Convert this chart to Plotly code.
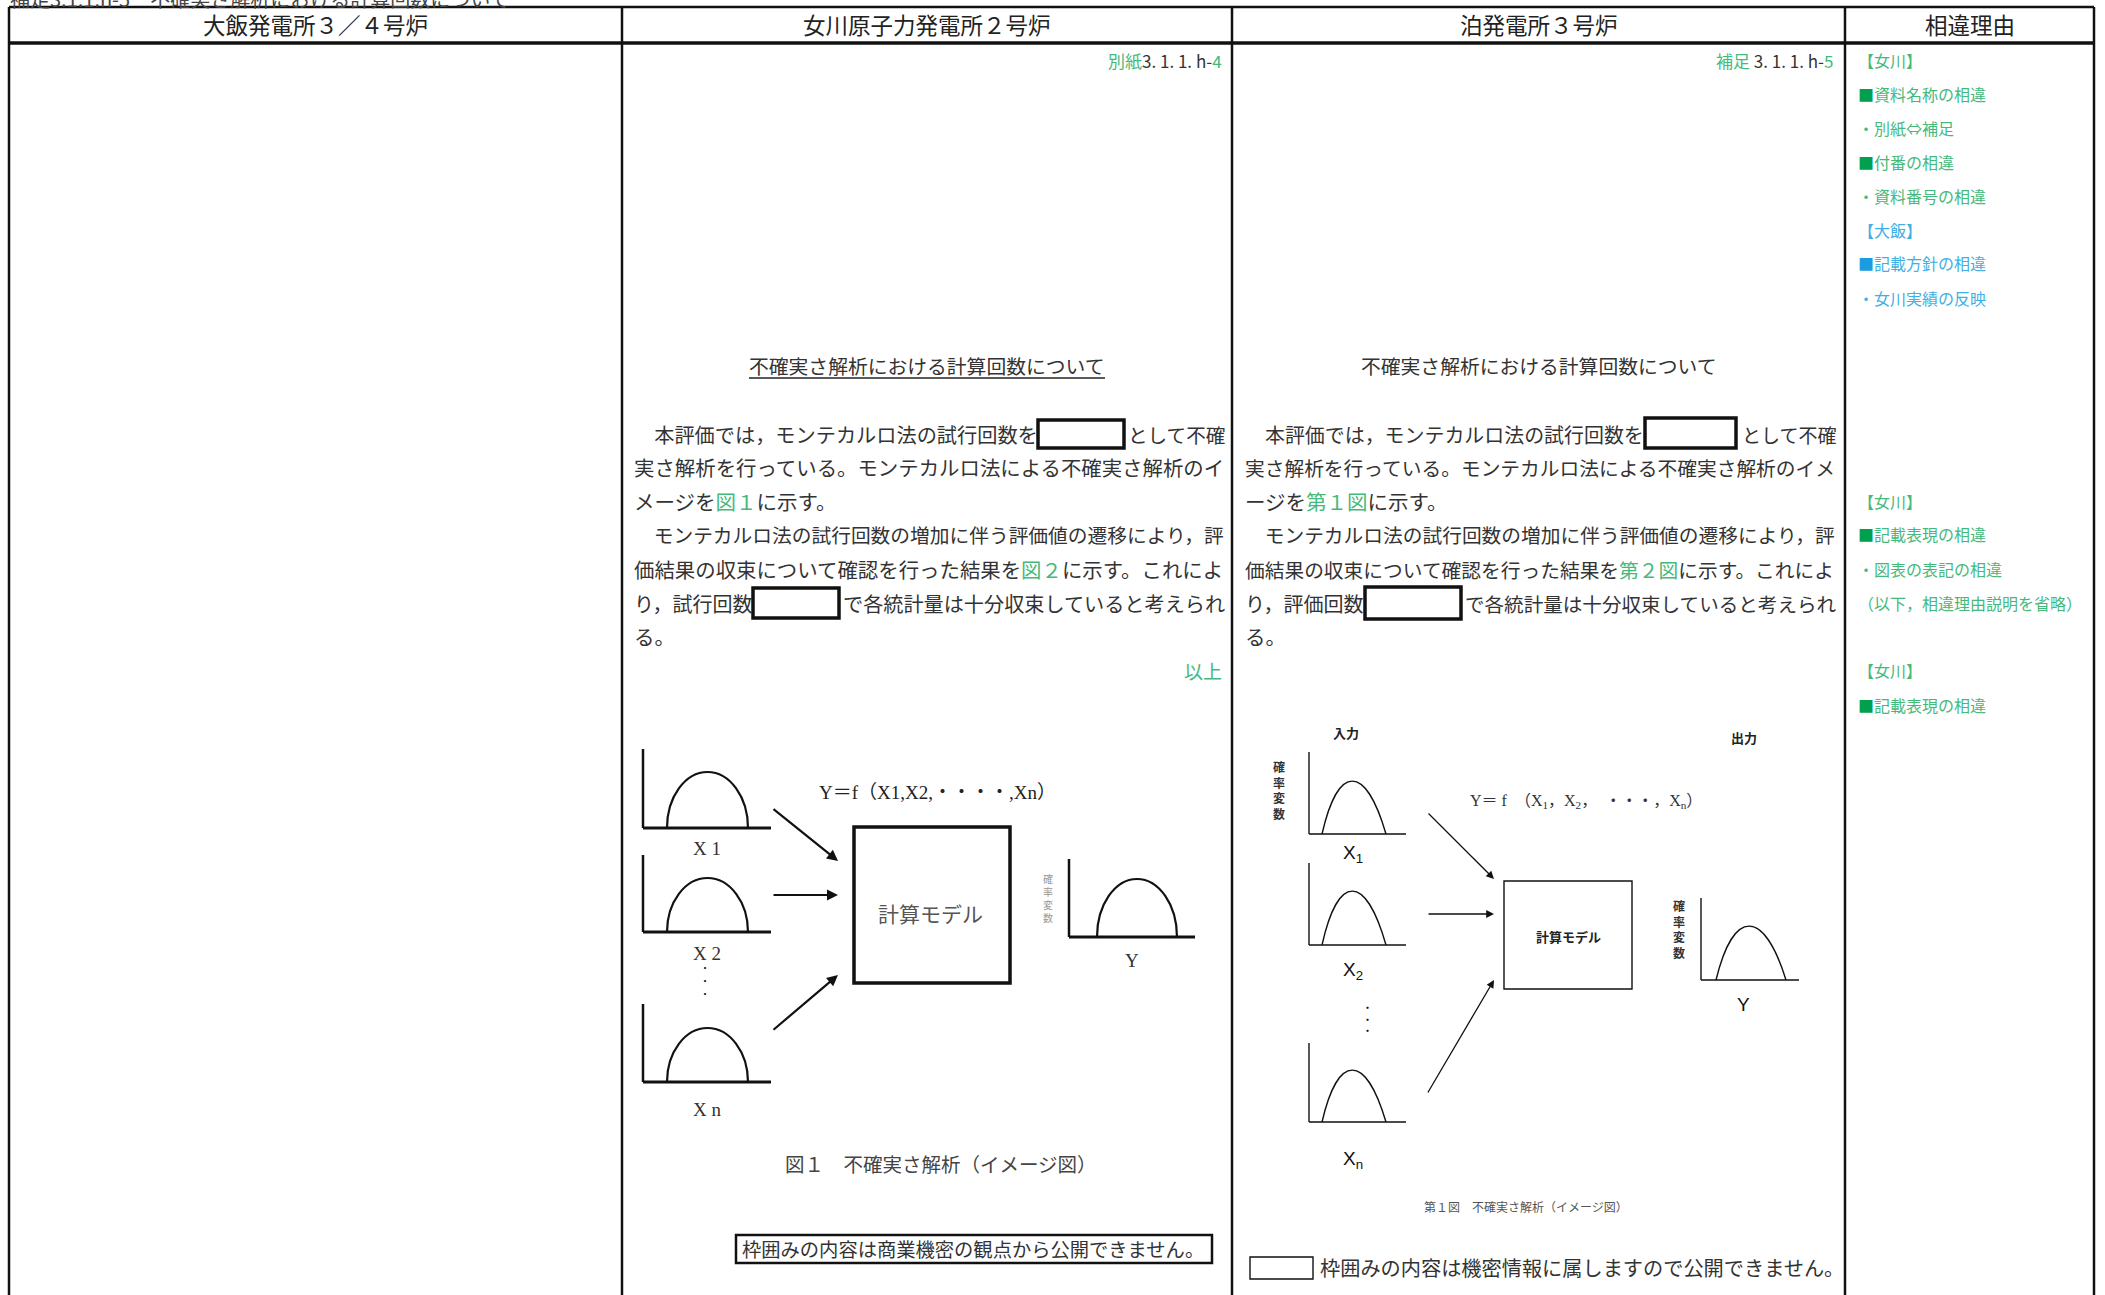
import plotly.graph_objects as go

# ---- text content -------------------------------------------------------
top_caption = "補足3.1.1.h-5　不確実さ解析における計算回数について"
headers = ["大飯発電所３／４号炉", "女川原子力発電所２号炉", "泊発電所３号炉", "相違理由"]
doc_title = "不確実さ解析における計算回数について"

oi_label = [("別紙", "g"), ("3. 1. 1. h-", "k"), ("4", "g")]
tomari_label = [("補足 ", "g"), ("3. 1. 1. h-", "k"), ("5", "g")]

onagawa_lines = [
    [[("　本評価では，モンテカルロ法の試行回数を", "k")], [("として不確", "k")]],
    [[("実さ解析を行っている。モンテカルロ法による不確実さ解析のイ", "k")]],
    [[("メージを", "k"), ("図１", "g"), ("に示す。", "k")]],
    [[("　モンテカルロ法の試行回数の増加に伴う評価値の遷移により，評", "k")]],
    [[("価結果の収束について確認を行った結果を", "k"), ("図２", "g"), ("に示す。これによ", "k")]],
    [[("り，試行回数", "k")], [("で各統計量は十分収束していると考えられ", "k")]],
    [[("る。", "k")]],
]
tomari_lines = [
    [[("　本評価では，モンテカルロ法の試行回数を", "k")], [("として不確", "k")]],
    [[("実さ解析を行っている。モンテカルロ法による不確実さ解析のイメ", "k")]],
    [[("ージを", "k"), ("第１図", "g"), ("に示す。", "k")]],
    [[("　モンテカルロ法の試行回数の増加に伴う評価値の遷移により，評", "k")]],
    [[("価結果の収束について確認を行った結果を", "k"), ("第２図", "g"), ("に示す。これによ", "k")]],
    [[("り，評価回数", "k")], [("で各統計量は十分収束していると考えられ", "k")]],
    [[("る。", "k")]],
]
ijo = "以上"

reasons = [
    ("【女川】", "g"), ("■資料名称の相違", "gsq"), ("・別紙⇔補足", "g"),
    ("■付番の相違", "gsq"), ("・資料番号の相違", "g"),
    ("【大飯】", "b"), ("■記載方針の相違", "bsq"), ("・女川実績の反映", "b"),
    ("【女川】", "g"), ("■記載表現の相違", "gsq"), ("・図表の表記の相違", "g"),
    ("（以下，相違理由説明を省略）", "g"),
    ("【女川】", "g"), ("■記載表現の相違", "gsq"),
]

oi_fig_inputs = ["X 1", "X 2", "X n"]
oi_formula = "Y＝f（X1,X2,・・・・,Xn）"
oi_caption = "図１　不確実さ解析（イメージ図）"
oi_note = "枠囲みの内容は商業機密の観点から公開できません。"

tm_fig_inputs = ["X<sub>1</sub>", "X<sub>2</sub>", "X<sub>n</sub>"]
tm_formula = "Y＝ f　（X<sub>1</sub>，X<sub>2</sub>，　・・・，X<sub>n</sub>）"
tm_caption = "第１図　不確実さ解析（イメージ図）"
tm_note = "枠囲みの内容は機密情報に属しますので公開できません。"
model_label = "計算モデル"
rv_label = "確率変数"

# ---- layout constants ----------------------------------------------------
W, H = 2105, 1295
FONT = "Noto Sans CJK JP"
SERIF = "Liberation Serif, Noto Sans CJK JP"
COLORS = {"k": "#333333", "g": "#45b97c", "b": "#3fb0e3",
          "gsq": "#00a04f", "bsq": "#1a9ce0"}
COL_X = [9, 622, 1232, 1845, 2094]
TOP_Y, HEAD_Y = 7, 43
LINE_Y = [434, 467, 501, 534, 569, 603, 636]
REASON_Y = [60, 94, 128, 162, 196, 230, 263, 298, 501, 534, 569, 603, 670, 705]

OI_RUNS = [[(632, 1036), (1126, 1224)], [(632, 1224)], [(632, None)],
           [(632, 1224)], [(632, 1224)], [(632, 752), (841, 1224)], [(632, None)]]
OI_BOXES = [(1038, 1124, 420, 448), (753, 839, 588, 618)]
TM_RUNS = [[(1243, 1642), (1740, 1835)], [(1243, 1835)], [(1243, None)],
           [(1243, 1835)], [(1243, 1835)], [(1243, 1363), (1463, 1835)], [(1243, None)]]
TM_BOXES = [(1645, 1736, 418, 448), (1365, 1461, 587, 619)]

fig = go.Figure()


def text(x, y, t, size, color=COLORS["k"], anchor="left", family=FONT, yanchor="middle"):
    fig.add_annotation(x=x, y=y, xref="x", yref="y", text=t, showarrow=False,
                       xanchor=anchor, yanchor=yanchor,
                       font=dict(family=family, size=size, color=color))


def spans(segs):
    out = ""
    for t, c in segs:
        out += t if c == "k" else "<span style='color:%s'>%s</span>" % (COLORS[c], t)
    return out


def line(x0, y0, x1, y1, w=2.5, color="#111"):
    fig.add_shape(type="line", x0=x0, y0=y0, x1=x1, y1=y1, xref="x", yref="y",
                  line=dict(color=color, width=w))


def rect(x0, y0, x1, y1, w=3.0, color="#111"):
    fig.add_shape(type="rect", x0=x0, y0=y0, x1=x1, y1=y1, xref="x", yref="y",
                  line=dict(color=color, width=w), fillcolor="rgba(0,0,0,0)")


def arrow(x0, y0, x1, y1, w=2.2, head=2, size=1.0):
    fig.add_annotation(x=x1, y=y1, ax=x0, ay=y0, xref="x", yref="y", axref="x", ayref="y",
                       text="", showarrow=True, arrowhead=head, arrowwidth=w,
                       arrowsize=size, arrowcolor="#111", standoff=0)


def half_ellipse(x0, x1, base, peak, w=2.2):
    r = (x1 - x0) / 2
    xc = x0 + r
    h = base - peak
    k = 0.552
    p = ("M %f,%f C %f,%f %f,%f %f,%f C %f,%f %f,%f %f,%f" %
         (x0, base, x0, base - k * h, xc - k * r, peak, xc, peak,
          xc + k * r, peak, x1, base - k * h, x1, base))
    fig.add_shape(type="path", path=p, xref="x", yref="y", line=dict(color="#111", width=w))


def bell(x0, x1, base, peak, w=1.4):
    span = x1 - x0
    p = ("M %f,%f C %f,%f %f,%f %f,%f" %
         (x0, base, x0 + 0.25 * span, peak - 0.33 * (base - peak),
          x1 - 0.32 * span, peak - 0.33 * (base - peak), x1, base))
    fig.add_shape(type="path", path=p, xref="x", yref="y", line=dict(color="#111", width=w))


def paragraph(lines, runs, boxes):
    for y, segs, ext in zip(LINE_Y, lines, runs):
        for run, (xa, xb) in zip(segs, ext):
            n = sum(len(t) for t, _ in run)
            size = 20.5 if xb is None else (xb - xa) / n
            text(xa, y, spans(run), size)
    for x0, x1, y0, y1 in boxes:
        rect(x0, y0, x1, y1, w=3.5)


# ---- table frame ------------------------------------------------------------
# page caption sits half off the top edge, as in the scanned sheet
fig.add_annotation(x=8, y=1 + 2 / H, xref="x", yref="paper", text=top_caption,
                   showarrow=False, xanchor="left", yanchor="middle",
                   font=dict(family=FONT, size=20, color="#444"))
line(COL_X[0], TOP_Y, COL_X[-1], TOP_Y, w=2.5)
line(COL_X[0], HEAD_Y, COL_X[-1], HEAD_Y, w=3.5)
for x in COL_X:
    line(x, TOP_Y, x, H + 5, w=2.5)
for i, h in enumerate(headers):
    text((COL_X[i] + COL_X[i + 1]) / 2, 24, h, 22.5, color="#222", anchor="center")

# ---- Onagawa column ---------------------------------------------------------
text(1224, 60, spans(oi_label), 17, anchor="right")
text(926, 365, doc_title, 19.8, anchor="center")
line(749, 378, 1105, 378, w=1.6, color="#222")
paragraph(onagawa_lines, OI_RUNS, OI_BOXES)
text(1224, 670, ijo, 19, color=COLORS["g"], anchor="right")

for (base, top, peak), lab, ly in zip([(828, 749, 772), (932, 855, 878), (1082, 1004, 1028)],
                                      oi_fig_inputs, [848, 953, 1109]):
    line(643, top, 643, base, w=2.5)
    line(643, base, 771, base, w=3)
    half_ellipse(667, 748, base, peak)
    text(707, ly, lab, 19, anchor="center", family=SERIF)
text(705, 980, "・<br>・<br>・", 10, anchor="center", color="#111")
text(937, 792, oi_formula, 19, anchor="center", family=SERIF, color="#222")
arrow(772, 808, 838, 861)
arrow(772, 895, 838, 895)
arrow(772, 1031, 838, 975)
rect(854, 827, 1010, 983, w=3.5)
text(930, 913, model_label, 21, anchor="center", color="#555")
line(1069, 859, 1069, 937, w=2.5)
line(1069, 937, 1195, 937, w=3)
half_ellipse(1097, 1177, 937, 879)
text(1048, 898, "<br>".join(rv_label), 10, anchor="center", color="#999")
text(1132, 960, "Y", 19, anchor="center", family=SERIF)
text(941, 1163, oi_caption, 19.5, anchor="center", color="#444")
rect(736, 1235, 1212, 1263, w=2.5)
text(740, 1249, oi_note, 19.3, color="#333")

# ---- Tomari column ----------------------------------------------------------
text(1835, 60, spans(tomari_label), 17, anchor="right")
text(1538, 365, doc_title, 19.8, anchor="center")
paragraph(tomari_lines, TM_RUNS, TM_BOXES)

text(1346, 732, "<b>入力</b>", 13, anchor="center", color="#222")
text(1744, 737, "<b>出力</b>", 13, anchor="center", color="#222")
text(1279, 790, "<b>" + "<br>".join(rv_label) + "</b>", 12, anchor="center", color="#333")
for (base, top, peak), lab, ly in zip([(834, 752, 781), (945, 863, 891), (1122, 1043, 1070)],
                                      tm_fig_inputs, [854, 971, 1160]):
    line(1309, top, 1309, base, w=1.4)
    line(1309, base, 1406, base, w=1.4)
    bell(1322, 1386, base, peak)
    text(1353, ly, lab, 19, anchor="center", family="Liberation Sans", color="#111")
text(1367, 1019, "<b>・<br>・<br>・</b>", 9, anchor="center", color="#111")
text(1586, 801, tm_formula, 16, anchor="center", family=SERIF, color="#333")
arrow(1427, 812, 1494, 879, w=1.3, head=2, size=1.2)
arrow(1427, 914, 1494, 914, w=1.3, head=2, size=1.2)
arrow(1427, 1094, 1494, 980, w=1.3, head=2, size=1.2)
rect(1504, 881, 1632, 989, w=1.4)
text(1568, 936, "<b>" + model_label + "</b>", 13, anchor="center", color="#222")
text(1679, 929, "<b>" + "<br>".join(rv_label) + "</b>", 12, anchor="center", color="#333")
line(1701, 898, 1701, 980, w=1.4)
line(1701, 980, 1799, 980, w=1.4)
bell(1716, 1786, 980, 926)
text(1743, 1004, "Y", 19, anchor="center", family="Liberation Sans", color="#111")
text(1526, 1206, tm_caption, 12, anchor="center", color="#555")
rect(1250, 1257, 1313, 1279, w=1.4)
text(1318, 1267, tm_note, 20.2, color="#333")

# ---- reasons column ---------------------------------------------------------
for (t, kind), y in zip(reasons, REASON_Y):
    if kind.endswith("sq"):
        base = kind[0]
        t = "<span style='color:%s'>■</span><span style='color:%s'>%s</span>" % (
            COLORS[kind], COLORS[base], t[1:])
        text(1856, y, t, 16)
    else:
        text(1856, y, t, 16, color=COLORS[kind])

fig.update_layout(
    width=W, height=H, margin=dict(l=0, r=0, t=0, b=0),
    paper_bgcolor="white", plot_bgcolor="white", showlegend=False,
    xaxis=dict(range=[0, W], visible=False, fixedrange=True),
    yaxis=dict(range=[H, 0], visible=False, fixedrange=True),
)
# page body margin off so the sheet starts at the window corner
fig.write_html("out.html", config={"displayModeBar": False},
               post_script="document.body.style.margin='0';")
